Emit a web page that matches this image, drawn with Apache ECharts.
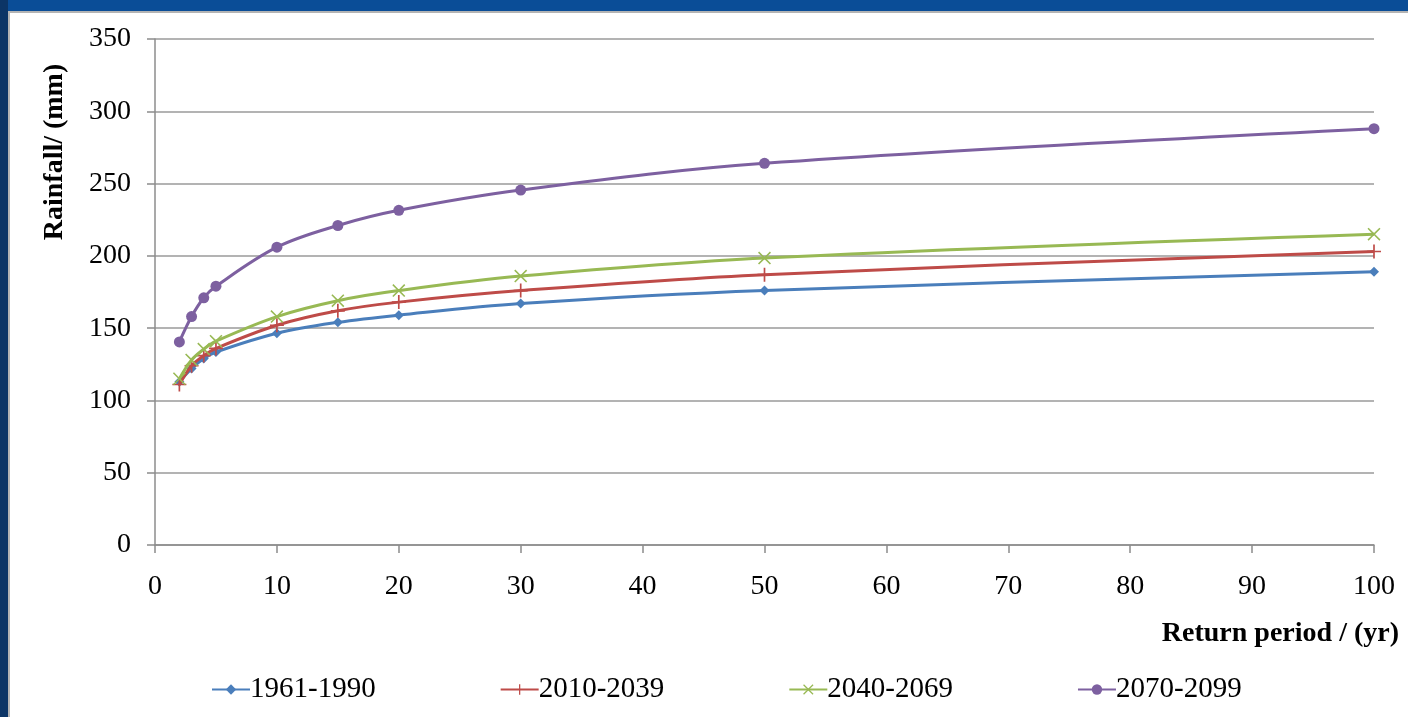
<!DOCTYPE html>
<html lang="en">
<head>
    <meta charset="UTF-8">
    <title>Rainfall vs return period</title>
    <script src="https://cdn.jsdelivr.net/npm/echarts@6/dist/echarts.min.js"></script>
    <style>
        html, body { margin: 0; padding: 0; background: #0a4d97; }
        #chart1 { width: 1408px; height: 717px; }
    </style>
</head>
<body>
<div id="chart1"></div>
<script type="text/javascript">
    // return periods (yr)
    var periods = [2, 3, 4, 5, 10, 15, 20, 30, 50, 100];
    var names = ['1961-1990', '2010-2039', '2040-2069', '2070-2099'];
    var rain1961 = [113, 122, 129, 133.5, 146.5, 154, 159, 167, 176, 189];
    var rain2010 = [111, 124, 131, 136, 152, 162, 168, 176, 187, 203];
    var rain2040 = [115, 128, 135.5, 141, 158, 169, 176, 186, 198.5, 215];
    var rain2070 = [140.5, 158, 171, 179, 206, 221, 231.5, 245.5, 264, 288];
    var yTicks = [0, 50, 100, 150, 200, 250, 300, 350];

    var colors = ['#4a7ebb', '#be4b48', '#98b954', '#7d60a0'];
    var plusPath = 'path://M-0.12,-1H0.12V-0.12H1V0.12H0.12V1H-0.12V0.12H-1V-0.12H-0.12Z';
    var crossPath = 'path://M-1,-0.83L-0.83,-1L0,-0.17L0.83,-1L1,-0.83L0.17,0L1,0.83L0.83,1L0,0.17L-0.83,1L-1,0.83L-0.17,0Z';
    var symbols = ['diamond', plusPath, crossPath, 'circle'];
    var sizes = [10, 14, 13, 11];
    var allData = [rain1961, rain2010, rain2040, rain2070];

    function pairs(vals) {
        return periods.map(function (p, i) { return [p, vals[i]]; });
    }

    var serif = '"Liberation Serif", "DejaVu Serif", serif';

    var myChart1 = echarts.init(document.getElementById('chart1'));
    myChart1.setOption({
        animation: false,
        color: colors,
        graphic: [
            {type: 'rect', left: 0, top: 0, shape: {width: 8, height: 717}, style: {fill: '#0c3566'}, z: -10},
            {type: 'rect', left: 8, top: 11, shape: {width: 1410, height: 720},
                style: {fill: '#ffffff', stroke: '#b4b4b4', lineWidth: 2}, z: -9},
            {type: 'text', x: 55, y: 152, rotation: Math.PI / 2,
                style: {text: 'Rainfall/ (mm)', font: 'bold 28px ' + serif, fill: '#000',
                    align: 'center', verticalAlign: 'middle'}},
            {type: 'text', x: 1399, y: 634,
                style: {text: 'Return period / (yr)', font: 'bold 28px ' + serif, fill: '#000',
                    align: 'right', verticalAlign: 'middle'}}
        ],
        grid: {left: 155, right: 34, top: 39, bottom: 172, containLabel: false},
        legend: {
            left: 206,
            top: 670,
            itemGap: 124,
            itemWidth: 38,
            itemHeight: 13,
            textStyle: {fontFamily: serif, fontSize: 29, color: '#000', padding: [0, 0, 0, -5]},
            data: names
        },
        xAxis: {
            type: 'value',
            min: 0,
            max: 100,
            interval: 10,
            axisLine: {show: true, lineStyle: {color: '#8c8c8c', width: 1.5}},
            axisTick: {show: true, inside: false, length: 8, lineStyle: {color: '#8c8c8c', width: 1.5}},
            axisLabel: {fontFamily: serif, fontSize: 28, color: '#000', margin: 28},
            splitLine: {show: false}
        },
        yAxis: {
            type: 'value',
            min: yTicks[0],
            max: yTicks[yTicks.length - 1],
            interval: 50,
            axisLine: {show: true, lineStyle: {color: '#8c8c8c', width: 1.5}},
            axisTick: {show: true, inside: false, length: 8, lineStyle: {color: '#8c8c8c', width: 1.5}},
            axisLabel: {fontFamily: serif, fontSize: 28, color: '#000', margin: 24},
            splitLine: {show: true, lineStyle: {color: '#9a9a9a', width: 1.5}}
        },
        series: names.map(function (n, i) {
            return {
                name: n,
                type: 'line',
                smooth: 0.35,
                data: pairs(allData[i]),
                symbol: symbols[i],
                symbolSize: sizes[i],
                lineStyle: {width: 3, color: colors[i]},
                itemStyle: {color: colors[i]},
                z: 2 + i
            };
        })
    });
</script>
</body>
</html>
